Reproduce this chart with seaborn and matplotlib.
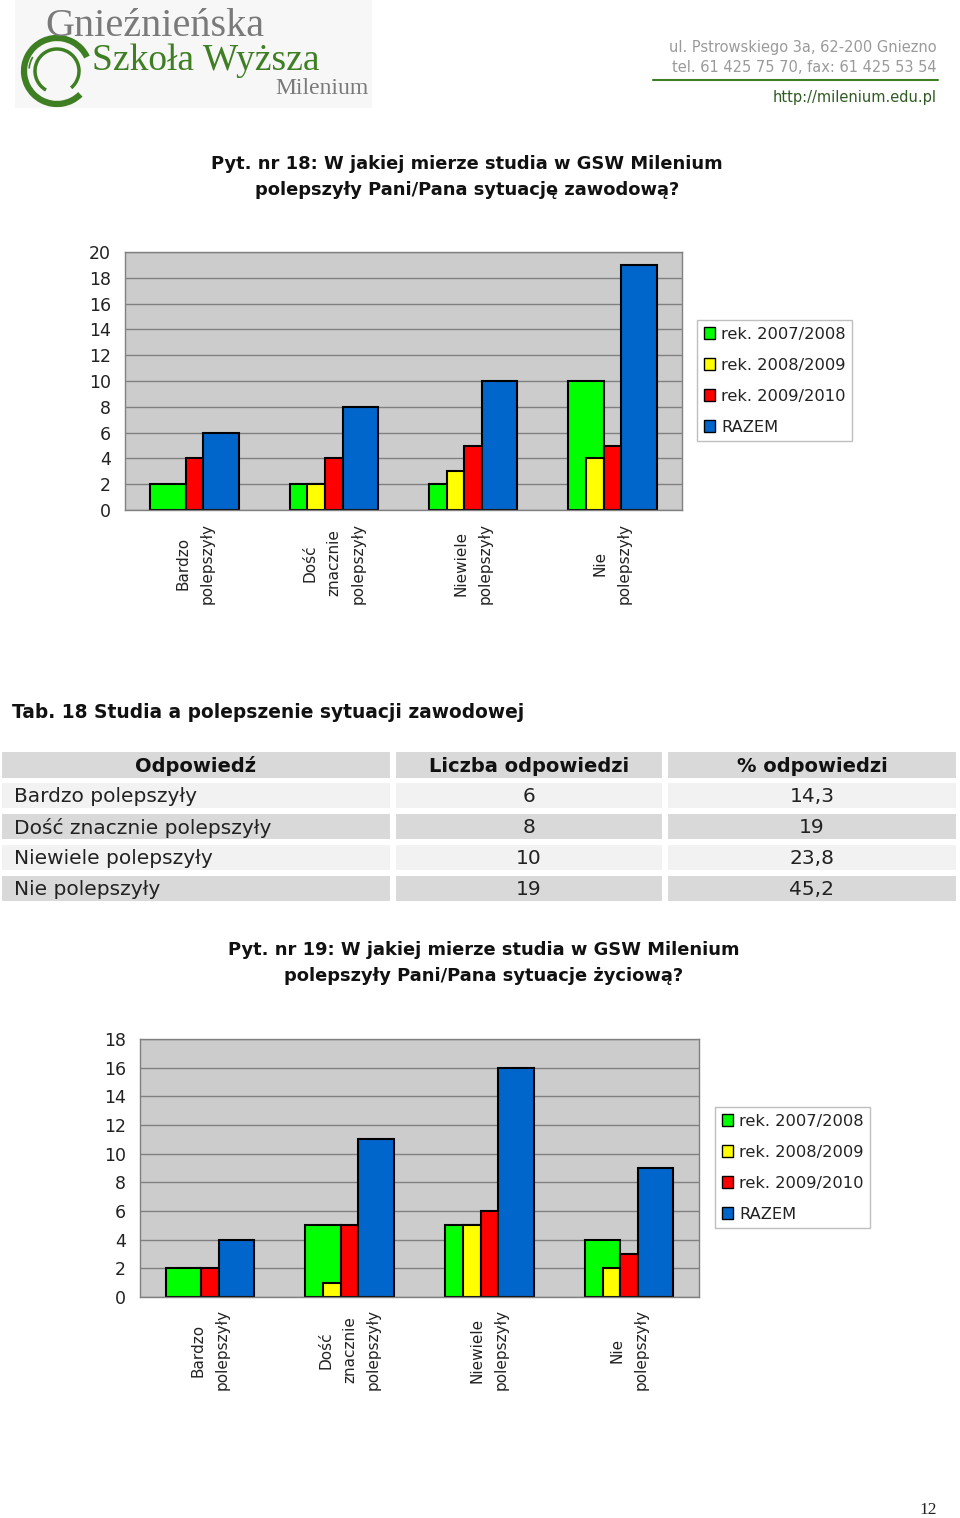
import pandas as pd
import seaborn as sns
import matplotlib.pyplot as plt
from matplotlib.patches import Patch, Rectangle, Arc

# === Data ===
categories = ["Bardzo\npolepszyły", "Dość\nznacznie\npolepszyły", "Niewiele\npolepszyły", "Nie\npolepszyły"]
series = ["rek. 2007/2008", "rek. 2008/2009", "rek. 2009/2010", "RAZEM"]
colors = ["#00FF00", "#FFFF00", "#FF0000", "#0066CC"]

# Pyt. 18 - sytuacja zawodowa
q18_2007 = [2, 2, 2, 10]
q18_2008 = [0, 2, 3, 4]
q18_2009 = [4, 4, 5, 5]
q18_total = [6, 8, 10, 19]

# Pyt. 19 - sytuacja życiowa
q19_2007 = [2, 5, 5, 4]
q19_2008 = [0, 1, 5, 2]
q19_2009 = [2, 5, 6, 3]
q19_total = [4, 11, 16, 9]

# Tab. 18
table_header = ["Odpowiedź", "Liczba odpowiedzi", "% odpowiedzi"]
table_answers = ["Bardzo polepszyły", "Dość znacznie polepszyły", "Niewiele polepszyły", "Nie polepszyły"]
table_counts = ["6", "8", "10", "19"]
table_pct = ["14,3", "19", "23,8", "45,2"]

TEXT_FONT = ["DejaVu Sans"]
SERIF = ["Liberation Serif", "DejaVu Serif"]


def to_long(values):
    rows = []
    for s, vals in zip(series, values):
        for c, v in zip(categories, vals):
            rows.append({"cat": c, "series": s, "val": v})
    return pd.DataFrame(rows)


# === Draw one Excel-like grouped bar chart ===
def draw_chart(ax, values, ymax, legend_anchor):
    df = to_long(values)
    sns.barplot(data=df, x="cat", y="val", hue="series", palette=colors, order=categories,
                hue_order=series, width=0.635, edgecolor="black", linewidth=1.5,
                saturation=1, legend=False, ax=ax)
    # reshape bars the way the original export shows them
    slot = 0.127
    layout = [(-2.5, 2), (-1.5, 1), (-0.5, 1), (0.5, 2)]
    for container, (off, n) in zip(ax.containers, layout):
        for j, bar in enumerate(container.patches):
            bar.set_x(j + off * slot)
            bar.set_width(n * slot)
            if bar.get_height() == 0:
                bar.set_visible(False)

    ax.set_facecolor("#CCCCCC")
    ax.set_ylim(0, ymax)
    ax.set_yticks(range(0, ymax + 1, 2))
    ax.set_xlim(-0.5, 3.5)
    ax.yaxis.grid(True, color="#808080", linewidth=1)
    ax.set_axisbelow(True)
    ax.set_xlabel("")
    ax.set_ylabel("")
    for sp in ax.spines.values():
        sp.set_color("#808080")
        sp.set_linewidth(1)
    ax.tick_params(axis="y", length=6, color="#808080", pad=4, labelsize=12.5, labelcolor="#222222")
    ax.set_xticks([-0.5, 0.5, 1.5, 2.5, 3.5], minor=True)
    ax.tick_params(axis="x", which="minor", length=6, color="#808080")
    ax.tick_params(axis="x", which="major", length=0, pad=9)
    ax.set_xticks(range(len(categories)))
    ax.set_xticklabels(categories, rotation=90, ha="center", va="top",
                       multialignment="center", fontsize=11, linespacing=1.75, color="#222222")

    handles = [Patch(facecolor=c, edgecolor="black", linewidth=1, label=s) for c, s in zip(colors, series)]
    leg = ax.legend(handles=handles, loc="upper left", bbox_to_anchor=legend_anchor,
                    bbox_transform=fig.transFigure, fontsize=11.7, frameon=True, fancybox=False,
                    handlelength=0.7, handleheight=0.7, handletextpad=0.35, labelspacing=0.98,
                    borderpad=0.42, borderaxespad=0)
    leg.get_frame().set_edgecolor("#B0B0B0")
    leg.get_frame().set_linewidth(1)
    for t in leg.get_texts():
        t.set_color("#222222")


sns.set_theme(style="white")
plt.rcParams["font.family"] = TEXT_FONT

W, H = 960, 1518
fig = plt.figure(figsize=(W / 100, H / 100), dpi=100)
fig.patch.set_facecolor("white")

# page overlay in pixel units (y downward)
page = fig.add_axes([0, 0, 1, 1], zorder=0)
page.set_xlim(0, W)
page.set_ylim(H, 0)
page.axis("off")

# --- header / logo ---
page.add_patch(Rectangle((15, 0), 357, 108, facecolor="#F7F7F7", edgecolor="none"))
page.text(45, 36, "Gnieźnieńska", family=SERIF, fontsize=29, color="#7A7A7A")
page.text(92, 70, "Szkoła Wyższa", family=SERIF, fontsize=27, color="#3F7F23")
page.text(275, 94, "Milenium", family=SERIF, fontsize=17, color="#7A7A7A")
page.add_patch(Arc((57, 71), 66, 66, theta1=45, theta2=335, color="#3F7F23", lw=4.5))
page.add_patch(Arc((57, 71), 44, 44, theta1=120, theta2=50, color="#3F7F23", lw=2.5))
page.add_patch(Arc((57, 71), 56, 56, theta1=185, theta2=210, color="#3F7F23", lw=1.2))

page.text(937, 52, "ul. Pstrowskiego 3a, 62-200 Gniezno", ha="right", fontsize=10.5, color="#9A9A9A")
page.text(937, 72, "tel. 61 425 75 70, fax: 61 425 53 54", ha="right", fontsize=10.5, color="#9A9A9A")
page.plot([653, 938], [80, 80], color="#3F7F23", lw=1.5)
page.text(937, 102, "http://milenium.edu.pl", ha="right", fontsize=10.5, color="#2F5A22")

# --- titles ---
page.text(467, 177, "Pyt. nr 18: W jakiej mierze studia w GSW Milenium\npolepszyły Pani/Pana sytuację zawodową?",
          ha="center", va="center", fontsize=12.9, fontweight="bold", linespacing=1.6, color="#111111")
page.text(484, 963, "Pyt. nr 19: W jakiej mierze studia w GSW Milenium\npolepszyły Pani/Pana sytuacje życiową?",
          ha="center", va="center", fontsize=12.9, fontweight="bold", linespacing=1.6, color="#111111")

# --- table ---
page.text(12, 712, "Tab. 18 Studia a polepszenie sytuacji zawodowej", va="center",
          fontsize=13.4, fontweight="bold", color="#111111")
col_x = [(2, 390), (396, 662), (668, 956)]
row_y = [(752, 778), (783, 808), (814, 839), (845, 870), (876, 901)]
row_fill = ["#D9D9D9", "#F2F2F2", "#D9D9D9", "#F2F2F2", "#D9D9D9"]
for (y0, y1), fill in zip(row_y, row_fill):
    for (x0, x1) in col_x:
        page.add_patch(Rectangle((x0, y0), x1 - x0, y1 - y0, facecolor=fill, edgecolor="none"))
for (x0, x1), label in zip(col_x, table_header):
    page.text((x0 + x1) / 2, (row_y[0][0] + row_y[0][1]) / 2 + 1, label, ha="center", va="center",
              fontsize=14, fontweight="bold", color="#111111")
for i in range(len(table_answers)):
    y0, y1 = row_y[i + 1]
    yc = (y0 + y1) / 2 + 1
    page.text(14, yc, table_answers[i], va="center", fontsize=14.5, color="#222222")
    page.text(sum(col_x[1]) / 2, yc, table_counts[i], ha="center", va="center", fontsize=14.5, color="#222222")
    page.text(sum(col_x[2]) / 2, yc, table_pct[i], ha="center", va="center", fontsize=14.5, color="#222222")

page.text(928, 1510, "12", ha="center", va="center", family=SERIF, fontsize=12.5, color="#222222")

# --- charts ---
ax1 = fig.add_axes([125 / W, 1 - 510 / H, 557 / W, 258 / H], zorder=2)
draw_chart(ax1, [q18_2007, q18_2008, q18_2009, q18_total], 20, (697 / W, 1 - 320 / H))

ax2 = fig.add_axes([140 / W, 1 - 1297 / H, 559 / W, 258 / H], zorder=2)
draw_chart(ax2, [q19_2007, q19_2008, q19_2009, q19_total], 18, (715 / W, 1 - 1107 / H))

fig.savefig("out.png", dpi=100, facecolor="white")
